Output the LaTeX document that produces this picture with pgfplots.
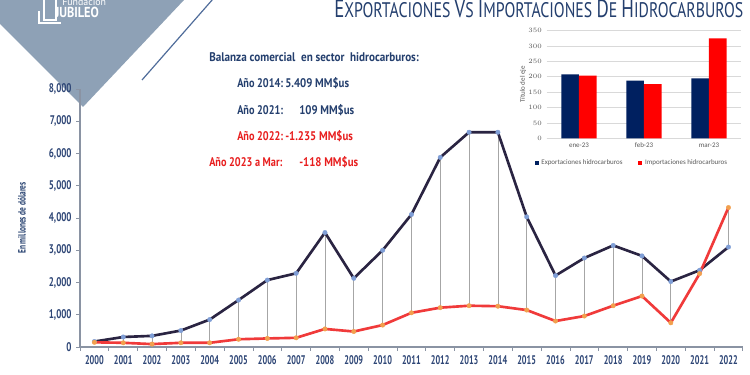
\documentclass[border=0pt]{standalone}
\usepackage{fontspec}
\setmainfont{PT Sans}
\newfontfamily\carl{Carlito}
\usepackage{graphicx}
\usepackage{pgfplots}
\pgfplotsset{compat=1.18}
\usepackage{pgfplotstable}
\definecolor{navy}{HTML}{243F6E}
\definecolor{ticknavy}{HTML}{2E4676}
\definecolor{expline}{HTML}{2A2442}
\definecolor{expmark}{HTML}{7F9ED6}
\definecolor{impline}{HTML}{F03A3A}
\definecolor{impmark}{HTML}{F2A04E}
\definecolor{dropgray}{HTML}{A6A6A6}
\definecolor{axisgray}{HTML}{8A93A3}
\definecolor{tri}{HTML}{8EA1B6}
\definecolor{diag}{HTML}{4F6C9A}
\definecolor{redtxt}{HTML}{E81E1E}
\definecolor{navybar}{HTML}{002060}
\definecolor{redbar}{HTML}{FF0000}
\definecolor{insetgray}{HTML}{595959}
\definecolor{gridgray}{HTML}{D9D9D9}
\newcommand\cond[2][0.72]{\scalebox{#1}[1]{#2}}
\newcommand\BL[1]{{\fontsize{19}{19}\selectfont #1}}

\pgfplotstableread{
year exp imp
2000 170 145
2001 310 130
2002 345 90
2003 510 130
2004 850 130
2005 1455 240
2006 2075 265
2007 2285 285
2008 3550 560
2009 2130 480
2010 3000 680
2011 4110 1060
2012 5880 1220
2013 6660 1280
2014 6660 1265
2015 4035 1145
2016 2215 805
2017 2760 960
2018 3150 1280
2019 2825 1580
2020 2030 750
2021 2380 2275
2022 3100 4325
}\hidro

\begin{document}
\begin{tikzpicture}[x=0.026667cm,y=0.026667cm]
\useasboundingbox (0,0) rectangle (750,375);
\clip (0,0) rectangle (750,375);
\fill[white] (0,0) rectangle (750,375);
% background triangle and diagonal
\fill[tri] (0,375) -- (184,375) -- (83,268) -- (0,351) -- cycle;
\draw[diag, line width=0.9pt] (142,295) -- (213,376);
\coordinate (mainSW) at (80,28);
\coordinate (insSW) at (546.5,236.7);

\begin{axis}[
  at={(mainSW)}, anchor=south west,
  scale only axis, width=17.68cm, height=6.88cm,
  xmin=1999.5, xmax=2022.5, ymin=0, ymax=8000,
  axis x line*=bottom, axis y line*=left,
  axis line style={draw=axisgray, line width=0.8pt, -},
  tick align=outside, major tick length=0.1cm,
  ytick={0,1000,...,8000},
  ytick style={draw=axisgray, line width=0.6pt},
  xtick={2000,...,2022},
  xtick style={draw=none},
  extra x ticks={1999.5,2000.5,...,2022.5},
  extra x tick style={xtick style={draw=axisgray, line width=0.6pt}, xticklabel={}},
  ticklabel style={text=ticknavy, font=\fontsize{9.5}{10}\bfseries},
  yticklabel={\cond{\pgfmathprintnumber[assume math mode=true]{\tick}}},
  xticklabel={\cond[0.66]{\pgfmathprintnumber[1000 sep={}, assume math mode=true]{\tick}}},
  ylabel={\cond[0.7]{En millones de dólares}},
  ylabel style={at={(axis description cs:-0.0875,0.5)}, anchor=center, text=navy, font=\fontsize{8}{9}\bfseries},
  clip=false,
]
\addplot[draw=none, mark=none, forget plot,
  error bars/.cd, y dir=minus, y explicit,
  error bar style={draw=dropgray, line width=0.5pt}, error mark=none]
  table[x=year, y expr={max(\thisrow{exp},\thisrow{imp})}, y error expr={abs(\thisrow{exp}-\thisrow{imp})}] {\hidro};
\addplot[draw=expline, line width=2pt, line join=round,
  mark=*, mark size=1.7pt, mark options={fill=expmark, draw=expmark, line width=0.3pt}]
  table[x=year, y=exp] {\hidro};
\addplot[draw=impline, line width=2pt, line join=round,
  mark=*, mark size=1.7pt, mark options={fill=impmark, draw=impmark, line width=0.3pt}]
  table[x=year, y=imp] {\hidro};
\end{axis}

\begin{axis}[
  at={(insSW)}, anchor=south west,
  scale only axis, width=5.2cm, height=2.869cm,
  xmin=-0.5, xmax=2.5, ymin=0, ymax=350,
  axis x line*=bottom, axis y line*=left,
  x axis line style={draw=gridgray, line width=0.5pt, -},
  y axis line style={draw=none},
  ytick={0,50,...,350}, xtick={0,1,2},
  xticklabels={ene-23,feb-23,mar-23},
  xtick style={draw=none}, ytick style={draw=none},
  ymajorgrids, grid style={draw=gridgray, line width=0.5pt},
  ticklabel style={text=insetgray, font=\carl\fontsize{5.3}{6}\selectfont},
  ylabel={Título del eje},
  ylabel style={at={(axis description cs:-0.12,0.5)}, anchor=center, text=insetgray, font=\carl\fontsize{5.3}{6}\selectfont},
  legend style={at={(axis description cs:0.44,-0.232)}, anchor=center, draw=none, fill=none,
    font=\carl\fontsize{5.3}{6}\selectfont, text=insetgray, legend columns=2,
    /tikz/every even column/.append style={column sep=10pt}},
  legend image code/.code={\fill[#1] (0pt,-1.5pt) rectangle (3pt,1.5pt);},
  clip=false,
]
\addplot[ybar, bar width=0.272, bar shift=-0.136, fill=navybar, draw=none]
  coordinates {(0,208) (1,188) (2,195)};
\addlegendentry{Exportaciones hidrocarburos}
\addplot[ybar, bar width=0.272, bar shift=0.136, fill=redbar, draw=none]
  coordinates {(0,204) (1,176) (2,325)};
\addlegendentry{Importaciones hidrocarburos}
\end{axis}

% title
\node[anchor=base west, inner sep=0, text=navy] at (334,357)
  {\cond[0.75]{\fontsize{16}{16}\selectfont \BL{E}XPORTACIONES \BL{V}S \BL{I}MPORTACIONES \BL{D}E \BL{H}IDROCARBUROS}};
% logo
\draw[white, line width=2.2pt] (44,375) -- (44,355) -- (56,355) -- (56,376);
\draw[white, line width=1.6pt] (39,364) -- (39,352) -- (61,352);
\node[anchor=base west, inner sep=0, text=white] at (62,369) {\fontsize{7.5}{8}\selectfont Fundación};
\node[anchor=base west, inner sep=0, text=white] at (55,357) {\cond[0.85]{\fontsize{11}{11}\bfseries JUBILEO}};
% balance text
\node[anchor=base west, inner sep=0, text=navy] at (209,313) {\cond[0.89]{\fontsize{9.5}{10}\bfseries Balanza comercial\ \ en sector\ \ hidrocarburos:}};
\node[anchor=base west, inner sep=0, text=navy] at (237,287) {\cond[0.82]{\fontsize{9.5}{10}\bfseries Año 2014:}};
\node[anchor=base west, inner sep=0, text=navy] at (285,287) {\cond[0.865]{\fontsize{9.5}{10}\bfseries 5.409 MM\$us}};
\node[anchor=base west, inner sep=0, text=navy] at (237,260) {\cond[0.82]{\fontsize{9.5}{10}\bfseries Año 2021:}};
\node[anchor=base west, inner sep=0, text=navy] at (299,260) {\cond[0.865]{\fontsize{9.5}{10}\bfseries 109 MM\$us}};
\node[anchor=base west, inner sep=0, text=redtxt] at (237,234) {\cond[0.82]{\fontsize{9.5}{10}\bfseries Año 2022:}};
\node[anchor=base west, inner sep=0, text=redtxt] at (285,234) {\cond[0.865]{\fontsize{9.5}{10}\bfseries -1.235 MM\$us}};
\node[anchor=base west, inner sep=0, text=redtxt] at (209,208) {\cond[0.82]{\fontsize{9.5}{10}\bfseries Año 2023 a Mar:}};
\node[anchor=base west, inner sep=0, text=redtxt] at (299,208) {\cond[0.865]{\fontsize{9.5}{10}\bfseries -118 MM\$us}};
\end{tikzpicture}
\end{document}
